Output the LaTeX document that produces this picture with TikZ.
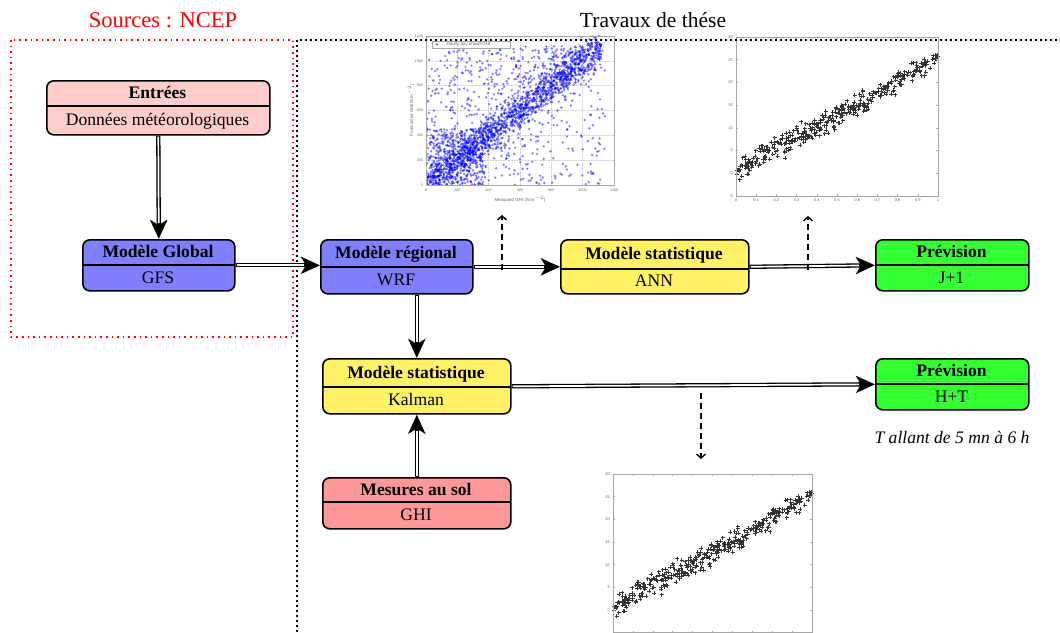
\documentclass[tikz,border=0pt]{standalone}
\usepackage{fontspec}
\setmainfont{Liberation Serif}
\newfontfamily\plotfont{Liberation Sans}
\usetikzlibrary{arrows.meta}
\definecolor{cEntree}{RGB}{255,204,204}
\definecolor{cBlue}{RGB}{128,128,255}
\definecolor{cYellow}{RGB}{255,242,102}
\definecolor{cGreen}{RGB}{51,255,51}
\definecolor{cRed}{RGB}{255,153,153}
\tikzset{
  boxshape/.style={draw, line width=1.6pt, rounded corners=7pt, inner sep=0pt},
  divline/.style={line width=1.6pt},
  boxtitle/.style={font=\fontsize{17.6}{20}\selectfont\bfseries, text height=11.7pt, text depth=0pt, inner sep=0pt},
  boxsub/.style={font=\fontsize{17.6}{20}\selectfont, text height=11.7pt, text depth=0pt, inner sep=0pt},
  dblouter/.style={line width=4.3pt, -{Stealth[length=19pt,width=17pt,inset=5pt]}},
  dblinner/.style={draw=white, line width=1.7pt, shorten >=16pt, shorten <=1pt},
  dsh/.style={line width=1.4pt, dash pattern=on 6pt off 4pt, -{Straight Barb[length=4pt,width=9pt]}},
  reddot/.style={red, line width=1.6pt, dash pattern=on 1.6pt off 4pt},
  blkdot/.style={black, line width=1.6pt, dash pattern=on 1.6pt off 3.4pt},
  axisl/.style={draw=gray!70, line width=0.6pt},
  gridl/.style={draw=gray!40, line width=0.4pt, dash pattern=on 0.6pt off 1pt},
  ticklab/.style={font=\plotfont\fontsize{3.6}{4}\selectfont, text=gray!80!black, inner sep=0.5pt},
  ticklabb/.style={font=\plotfont\fontsize{4}{4.5}\selectfont, text=gray!80!black, inner sep=0.5pt},
  pts/.style={fill=blue, opacity=0.5},
  crs/.style={draw=black!80, line width=0.85pt},
  tck/.style={draw=gray!70, line width=0.5pt}
}
\newcommand\dblarrow[2]{%
  \draw[dblouter] #1 -- #2;
  \draw[dblinner] #1 -- #2;
}
\newcommand\twobox[9]{%
  \pgfmathsetmacro\bw{#4-#2}\pgfmathsetmacro\bh{#5-#3}%
  \pgfmathsetmacro\bcx{(#2+#4)/2}%
  \pgfmathsetmacro\tcy{(#3+#6)/2}\pgfmathsetmacro\scy{(#6+#5)/2}%
  \node[boxshape, fill=#7, minimum width=\bw pt, minimum height=\bh pt, anchor=north west] (#1) at (#2,#3) {};
  \draw[divline] (#2,#6) -- (#4,#6);
  \node[boxtitle] (#1-t) at (\bcx,\tcy) {#8};
  \node[boxsub] (#1-s) at (\bcx,\scy) {#9};
}
\newif\ifxlabels
\newcommand\mylinplot[1]{%
  \pgfmathsetseed{7}%
  \begin{scope}
  \clip (-0.02,-5) rectangle (1.02,30);
  \foreach \i in {1,...,360}{%
    \pgfmathsetmacro\lx{rnd}%
    \pgfmathsetmacro\ly{25*\lx+0.3+2.4*(rnd+rnd+rnd-1.5)}%
    \draw[crs] (\lx,\ly) ++(-2pt,0) -- ++(4pt,0) ++(-2pt,-2pt) -- ++(0,4pt);
  }
  \end{scope}
  \draw[axisl] (0,-5) rectangle (1,30);
  \foreach \v in {0,5,10,15,20,25,30}{
    \draw[tck] (0,\v) -- ++(2pt,0);
    \draw[tck] (1,\v) -- ++(-2pt,0);
    \node[ticklabb, anchor=east] (#1y\v) at (-0.012,\v) {\v};
  }
  \foreach \v/\l in {0/0,0.1/0.1,0.2/0.2,0.3/0.3,0.4/0.4,0.5/0.5,0.6/0.6,0.7/0.7,0.8/0.8,0.9/0.9,1/1}{
    \draw[tck] (\v,-5) -- ++(0,2pt);
    \draw[tck] (\v,30) -- ++(0,-2pt);
    \ifxlabels\node[ticklabb, anchor=north] (#1x\l) at (\v,-5.5) {\l};\fi
  }
  \ifxlabels\node[ticklabb, anchor=east] (#1ym5) at (-0.012,-5) {-5};\fi
}
\begin{document}
\begin{tikzpicture}[x=1pt,y=-1pt]
\useasboundingbox (0,0) rectangle (1060,632);
\clip (0,0) rectangle (1060,632);
\fill[white] (0,0) rectangle (1060,632);

% ---------- scatter plot (top centre)
\begin{scope}[shift={(426,185)}, x=0.15667pt, y=0.12417pt]
  \fill[white] (0,0) rectangle (1200,1200);
  \foreach \v in {200,400,600,800,1000}{
    \draw[gridl] (\v,0) -- (\v,1200);
    \draw[gridl] (0,\v) -- (1200,\v);
  }
  \begin{scope}
    \clip (0,0) rectangle (1200,1200);
    \pgfmathsetseed{42}
    \foreach \i in {1,...,1500}{
      \pgfmathsetmacro\gx{rnd*1120}
      \pgfmathsetmacro\gy{\gx+130*(rnd+rnd+rnd+rnd-2)}
      \fill[pts] (\gx,\gy) circle (1.3pt);
    }
    \foreach \i in {1,...,450}{
      \pgfmathsetmacro\gx{rnd*1000}
      \pgfmathsetmacro\gy{\gx+rnd*(1120-\gx)}
      \fill[pts] (\gx,\gy) circle (1.3pt);
    }
    \foreach \i in {1,...,260}{
      \pgfmathsetmacro\gx{150+rnd*1000}
      \pgfmathsetmacro\gy{\gx*rnd}
      \fill[pts] (\gx,\gy) circle (1.3pt);
    }
    \foreach \i in {1,...,350}{
      \pgfmathsetmacro\gx{rnd*380}
      \pgfmathsetmacro\gy{rnd*450}
      \fill[pts] (\gx,\gy) circle (1.3pt);
    }
  \end{scope}
  \draw[axisl] (0,0) rectangle (1200,1200);
  \foreach \v in {0,200,400,600,800,1000,1200}{
    \node[ticklab, anchor=east] (scy\v) at (-15,\v) {\v};
    \node[ticklab, anchor=north] (scx\v) at (\v,-25) {\v};
  }
\end{scope}
\node[draw=gray!70, line width=0.4pt, fill=white, minimum width=78pt, minimum height=7pt, inner sep=0pt, anchor=north west] (legend) at (432,41) {};
\fill[blue, opacity=0.7] (437,44.5) circle (1.1pt);
\node[ticklab, font=\plotfont\fontsize{4.4}{5}\selectfont, anchor=west] (legtxt) at (446,44.5) {Hourly day ahead GHI};
\node[ticklab, font=\plotfont\fontsize{4.4}{5}\selectfont] (sclabx) at (520,199) {Measured GHI (W.m$^{-2}$)};
\node[ticklab, font=\plotfont\fontsize{4.4}{5}\selectfont, rotate=90] (sclaby) at (411,110) {Forecasted GHI(W.m$^{-2}$)};

% ---------- linear plots
\xlabelstrue
\begin{scope}[shift={(736,173.3)}, x=202pt, y=4.543pt]
  \mylinplot{pa}
\end{scope}
\xlabelsfalse
\begin{scope}[shift={(613,610)}, x=199pt, y=4.533pt]
  \mylinplot{pb}
\end{scope}

% ---------- titles and frames
\node[text=red, font=\fontsize{22.5}{25}\selectfont] (sources) at (163,20) {Sources : NCEP};
\node[font=\fontsize{21.5}{24}\selectfont] (travaux) at (653,20) {Travaux de thése};
\draw[reddot] (11,40) rectangle (293,337);
\draw[blkdot] (297,632) -- (297,40) -- (1060,40);

% ---------- boxes
\twobox{entrees}{46}{80}{269}{134}{106}{cEntree}{Entrées}{Données météorologiques}
\twobox{global}{82}{239}{234}{290}{265}{cBlue}{Modèle Global}{GFS}
\twobox{regional}{320}{239}{472}{293}{267}{cBlue}{Modèle régional}{WRF}
\twobox{ann}{560}{239}{748}{293}{269}{cYellow}{Modèle statistique}{ANN}
\twobox{prevj}{875}{239}{1028}{290}{265}{cGreen}{Prévision}{J+1}
\twobox{kalman}{322}{358}{510}{413}{387}{cYellow}{Modèle statistique}{Kalman}
\twobox{prevh}{875}{358}{1028}{409}{384}{cGreen}{Prévision}{H+T}
\twobox{mesures}{322}{477}{510}{528}{502}{cRed}{Mesures au sol}{GHI}
\node[font=\fontsize{17.6}{20}\selectfont\itshape] (tallant) at (952,437) {T allant de 5 mn à 6 h};

% ---------- connectors
\dblarrow{(entrees.south)}{(global.north)}
\dblarrow{(global.east)}{(global.east -| regional.west)}
\dblarrow{(regional.east)}{(ann.west)}
\dblarrow{(ann.east)}{(prevj.west)}
\dblarrow{(kalman.north |- regional.south)}{(kalman.north)}
\dblarrow{(mesures.north)}{(kalman.south)}
\dblarrow{(kalman.east)}{(prevh.west)}

\coordinate (d1s) at (502,270);
\coordinate (d1e) at (502,215);
\coordinate (d2s) at (808,270);
\coordinate (d2e) at (808,216);
\coordinate (d3s) at (701,393);
\coordinate (d3e) at (701,459);
\draw[dsh] (d1s) -- (d1e);
\draw[dsh] (d2s) -- (d2e);
\draw[dsh] (d3s) -- (d3e);
\end{tikzpicture}
\end{document}
